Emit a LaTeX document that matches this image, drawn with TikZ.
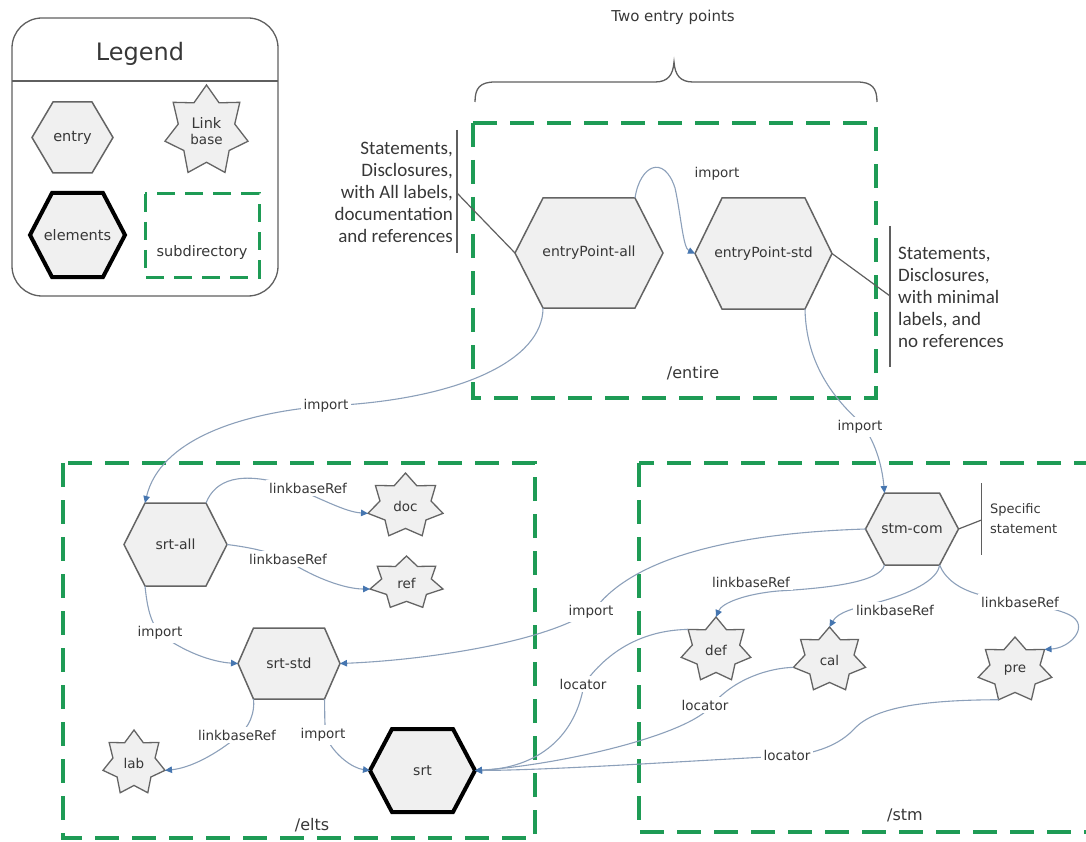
\documentclass[tikz,border=0pt]{standalone}
\usepackage{fontspec}
\setmainfont{DejaVu Sans}
\newfontfamily\annofont{Carlito}
\usetikzlibrary{arrows.meta}
\pgfdeclarelayer{bg}
\pgfsetlayers{bg,main}
\definecolor{grn}{RGB}{30,155,85}
\definecolor{connc}{RGB}{140,160,186}
\definecolor{arrc}{RGB}{70,118,176}
\definecolor{hexfill}{RGB}{240,240,240}
\definecolor{hexline}{RGB}{100,100,100}
\definecolor{txtc}{RGB}{55,55,55}
\definecolor{annc}{RGB}{95,95,95}
\tikzset{
 hexshape/.style={fill=hexfill, draw=hexline, line width=1.5pt, line join=miter},
 heavy/.style={draw=black, line width=4pt},
 hextxt/.style={draw=none, outer sep=0pt, inner sep=0pt, text=txtc, font=\fontsize{14}{16}\selectfont},
 starshape/.style={fill=hexfill, draw=hexline, line width=1.3pt, line join=miter},
 startxt/.style={inner sep=0pt, text=txtc, font=\fontsize{13.5}{16}\selectfont, align=center},
 conn/.style={draw=connc, line width=1.1pt, -{Triangle[length=7pt,width=6.5pt,color=arrc]}},
 lbl/.style={fill=white, inner sep=3pt, text=txtc, font=\fontsize{13.5}{15}\selectfont},
 dbox/.style={draw=grn, line width=3.5pt, dash pattern=on 24pt off 13pt},
 annot/.style={draw=annc, line width=1.2pt},
 annotxt/.style={text=txtc, font=\annofont\fontsize{19}{22}\selectfont, inner sep=0pt},
 boxlbl/.style={text=txtc, font=\fontsize{16}{18}\selectfont},
}
% #1 polygon style, #2 name, #3 cx, #4 cy, #5 width, #6 height, #7 inset, #8 text
\newcommand\mkhex[8]{%
  \node[hextxt, minimum width=#5pt, minimum height=#6pt] (#2) at (#3,#4) {#8};
  \coordinate (#2-tl) at ({#3-#5/2+#7},{#4-#6/2});
  \coordinate (#2-tr) at ({#3+#5/2-#7},{#4-#6/2});
  \coordinate (#2-bl) at ({#3-#5/2+#7},{#4+#6/2});
  \coordinate (#2-br) at ({#3+#5/2-#7},{#4+#6/2});
  \begin{pgfonlayer}{bg}
  \filldraw[hexshape,#1] (#2.west) -- (#2-tl) -- (#2-tr) -- (#2.east) -- (#2-br) -- (#2-bl) -- cycle;
  \end{pgfonlayer}}
% #1 name, #2 cx, #3 cy, #4 rx, #5 ry, #6 text
\newcommand\mkstar[6]{%
  \node[startxt] (#1) at (#2,#3) {#6};
  \foreach \k in {0,...,6} {\coordinate (#1-p\k) at ({#2+#4*cos(-90+\k*360/7)},{#3+#5*sin(-90+\k*360/7)});}
  \begin{pgfonlayer}{bg}
  \filldraw[starshape] plot[samples at={0,...,13}, variable=\k] ({#2+#4*(1-0.32*mod(\k,2))*cos(-90+\k*180/7)},{#3+#5*(1-0.32*mod(\k,2))*sin(-90+\k*180/7)}) -- cycle;
  \end{pgfonlayer}}
\begin{document}
\begin{tikzpicture}[x=1pt,y=-1pt]
\useasboundingbox (0,0) rectangle (1086,842);
\clip (0,0) rectangle (1086,842);

% ---------- legend ----------
\draw[draw=annc, line width=1.3pt, rounded corners=30pt] (12,18) rectangle (278,296);
\draw[draw=annc, line width=1.2pt] (12,81) -- (278,81);
\node[text=txtc, font=\fontsize{24}{26}\selectfont] (legtitle) at (140,54) {Legend};
\mkhex{}{legentry}{72.5}{137.5}{81}{71}{21}{\fontsize{14.5}{16}\selectfont entry}
\mkhex{heavy}{legelem}{77.5}{235}{95}{84}{22}{\fontsize{14.5}{16}\selectfont elements}
\mkstar{leglink}{206.5}{131}{42.6}{46}{\fontsize{14.5}{22}\selectfont Link\\base}
\draw[draw=grn, line width=3pt, dash pattern=on 18pt off 10pt] (145,194) rectangle (259,277);
\node[text=txtc, font=\fontsize{14.5}{16}\selectfont] (legsub) at (202,253) {subdirectory};

% ---------- brace ----------
\node[text=txtc, font=\fontsize{15}{17}\selectfont] (twoep) at (673,17) {Two entry points};
\draw[annot, line width=1.3pt] (475,102) .. controls (475,88) and (480,82) .. (495,82) -- (655,82)
  .. controls (668,82) and (673,75) .. (674,62) .. controls (675,75) and (680,82) .. (693,82)
  -- (857,82) .. controls (872,82) and (877,88) .. (877,102);

% ---------- subdirectory boxes ----------
\draw[dbox] (473,123) rectangle (876,398);
\draw[dbox] (63,463) rectangle (535,838);
\draw[dbox] (639,463) rectangle (1110,832);
\node[boxlbl] (lentire) at (693,373) {/entire};
\node[boxlbl] (lelts) at (312,825) {/elts};
\node[boxlbl] (lstm) at (905,815) {/stm};

% ---------- hexagons ----------
\mkhex{}{epa}{589}{253}{148}{110}{28}{entryPoint-all}
\mkhex{}{epstd}{763.5}{253.5}{137}{111}{27}{entryPoint-std}
\mkhex{}{srtall}{175.5}{544.5}{103}{83}{21}{srt-all}
\mkhex{}{srtstd}{289}{663.5}{102}{71}{15.5}{srt-std}
\mkhex{heavy}{srt}{422.5}{770.5}{105}{83}{22}{srt}
\mkhex{}{stmcom}{912}{529}{93}{72}{19}{stm-com}

% ---------- stars ----------
\mkstar{doc}{405.5}{506}{38.5}{33}{doc}
\mkstar{ref}{406.5}{583}{37.4}{27}{ref}
\mkstar{lab}{134}{763}{31.8}{33}{lab}
\mkstar{def}{716}{650}{35.7}{33}{def}
\mkstar{cal}{829.5}{660}{37}{33}{cal}
\mkstar{pre}{1015}{670}{37.8}{33}{pre}

% ---------- annotations ----------
\node[annotxt, align=right, anchor=east] (annL) at (453,192.5)
  {Statements,\\Disclosures,\\with All labels,\\documentation\\and references};
\coordinate (barLt) at (457,130); \coordinate (barLb) at (457,253); \coordinate (barLm) at (457,193);
\draw[annot] (barLt) -- (barLb);
\draw[annot] (barLm) -- (epa.west);

\node[annotxt, align=left, anchor=west] (annR) at (898,297)
  {Statements,\\Disclosures,\\with minimal\\labels, and\\no references};
\coordinate (barRt) at (890,226); \coordinate (barRb) at (890,367); \coordinate (barRm) at (890,296);
\draw[annot] (barRt) -- (barRb);
\draw[annot] (epstd.east) -- (barRm);

\node[text=txtc, font=\fontsize{13}{20}\selectfont, align=left, anchor=west, inner sep=0pt] (annS) at (990,519)
  {Specific\\statement};
\coordinate (barSt) at (981.5,483); \coordinate (barSb) at (981.5,555); \coordinate (barSm) at (981.5,520);
\draw[annot] (barSt) -- (barSb);
\draw[annot] (stmcom.east) -- (barSm);

% ---------- connectors ----------
\draw[conn] (epa-tr) .. controls (640,165) and (664,154) .. (675,188) .. controls (681,215) and (683,248) .. (epstd.west);
\draw[conn] (epa-bl) .. controls (543,360) and (460,400) .. (326,406) .. controls (240,413) and (160,440) .. (srtall-tl);
\draw[conn] (epstd-br) .. controls (806,360) and (830,395) .. (860,422) .. controls (875,440) and (882,465) .. (stmcom-tl);
\draw[conn] (srtall-tr) .. controls (215,480) and (240,470) .. (290,486) .. controls (320,498) and (345,512) .. (doc-p5);
\draw[conn] (srtall.east) .. controls (255,548) and (275,553) .. (290,562) .. controls (315,578) and (345,589) .. (ref-p5);
\draw[conn] (srtall-bl) .. controls (147,605) and (150,625) .. (163,636) .. controls (185,652) and (212,662) .. (srtstd.west);
\draw[conn] (srtstd-bl) .. controls (255,712) and (250,727) .. (237,737) .. controls (215,755) and (190,768) .. (lab-p2);
\draw[conn] (srtstd-br) .. controls (325,712) and (324,727) .. (327,739) .. controls (335,755) and (352,768) .. (srt.west);
\draw[conn] (stmcom.west) .. controls (740,533) and (640,555) .. (598,605) .. controls (560,640) and (430,660) .. (srtstd.east);
\draw[conn] (def-p6) .. controls (650,630) and (612,645) .. (584,684) .. controls (576,735) and (540,768) .. (srt.east);
\draw[conn] (cal-p5) .. controls (770,668) and (735,678) .. (712,705) .. controls (690,735) and (560,765) .. (srt.east);
\draw[conn] (pre-p4) .. controls (920,700) and (875,708) .. (855,728) .. controls (840,745) and (815,754) .. (787,756) .. controls (700,760) and (560,770) .. (srt.east);
\draw[conn] (stmcom-bl) .. controls (880,582) and (830,588) .. (778,591) .. controls (745,594) and (722,603) .. (def-p0);
\draw[conn] (stmcom-br) .. controls (938,580) and (910,594) .. (875,603) .. controls (855,608) and (838,612) .. (cal-p0);
\draw[conn] (stmcom-br) .. controls (945,578) and (958,590) .. (985,596) .. controls (1030,605) and (1060,608) .. (1073,617) .. controls (1088,628) and (1070,648) .. (pre-p1);

% ---------- connector labels ----------
\node[lbl, fill=none] (l1) at (717,174) {import};
\node[lbl] (l2) at (326,406) {import};
\node[lbl] (l3) at (860,427) {import};
\node[lbl] (l4) at (308,488) {linkbaseRef};
\node[lbl] (l5) at (288,559) {linkbaseRef};
\node[lbl] (l6) at (160,633) {import};
\node[lbl] (l7) at (237,735) {linkbaseRef};
\node[lbl] (l8) at (323,735) {import};
\node[lbl] (l9) at (591,612) {import};
\node[lbl] (l10) at (583,684) {locator};
\node[lbl] (l11) at (751,582) {linkbaseRef};
\node[lbl] (l12) at (895,610) {linkbaseRef};
\node[lbl] (l13) at (1020,602) {linkbaseRef};
\node[lbl] (l14) at (705,705) {locator};
\node[lbl] (l15) at (787,755) {locator};
\end{tikzpicture}
\end{document}
